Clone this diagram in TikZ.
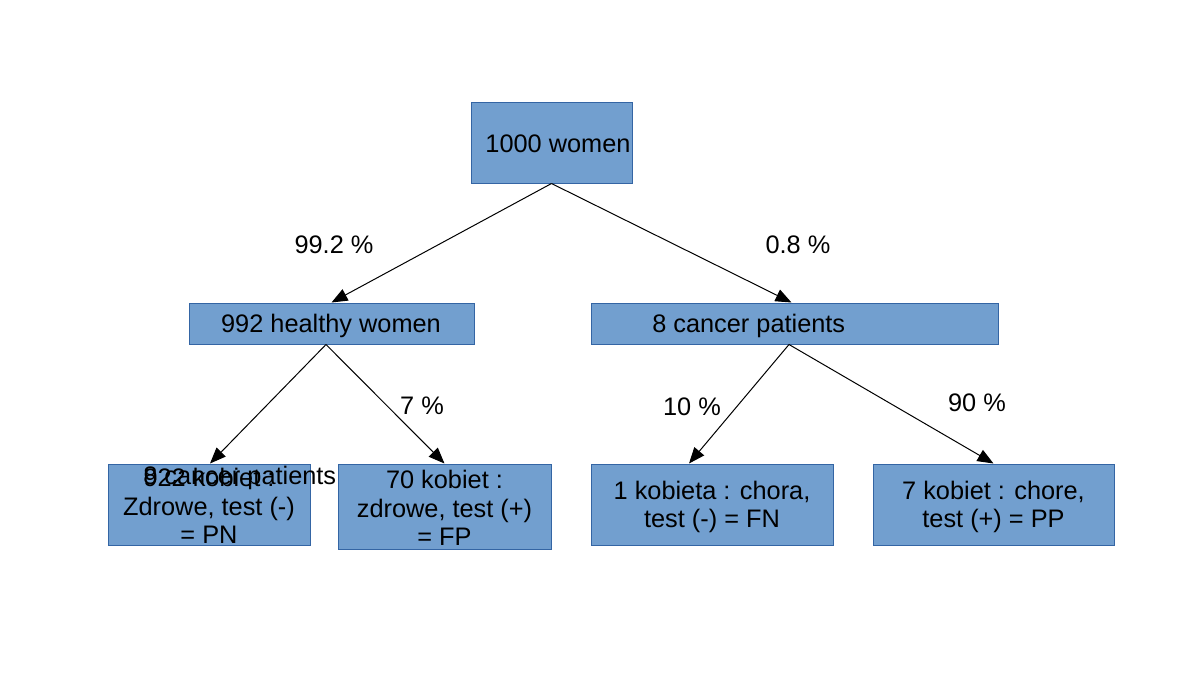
\documentclass[tikz,border=0pt]{standalone}
\usepackage{fontspec}
\setmainfont{Liberation Sans}
\usetikzlibrary{arrows.meta,calc,fit}
\definecolor{boxfill}{HTML}{729FCF}
\definecolor{boxline}{HTML}{3465A4}
\tikzset{
  box/.style={draw=boxline, fill=boxfill, line width=0.75pt, inner sep=0pt, rectangle},
  txt/.style={font=\fontsize{19}{21.5}\selectfont, align=center, inner sep=0pt, text=black},
  arr/.style={draw=black, line width=0.75pt, -{Triangle[length=12pt,width=9.5pt]}}
}
\begin{document}
\begin{tikzpicture}[x=0.75pt,y=-0.75pt]
\useasboundingbox (0,0) rectangle (1200,675);
% boxes
\node[box, fit={(471,102)(632,183)}] (top) {};
\node[box, fit={(189,303)(474,344)}] (healthy) {};
\node[box, fit={(591,303)(998,344)}] (cancer) {};
\node[box, fit={(108,464)(310,545)}] (pn) {};
\node[box, fit={(338,464)(551,549)}] (fp) {};
\node[box, fit={(591,464)(833,545)}] (fn) {};
\node[box, fit={(873,464)(1114,545)}] (pp) {};
% texts
\node[txt] (ttop) at (558,144) {1000 women};
\node[txt] (thealthy) at (331,326) {992 healthy women};
\node[txt, anchor=west] (tcancer) at (652,326) {8 cancer patients};
\node[txt] (tpn) at (209,506) {922 kobiet :\\Zdrowe, test (-)\\= PN};
\node[txt, anchor=west] (tover) at (143,478) {8 cancer patients};
\node[txt] (tfp) at (444.5,508) {70 kobiet :\\zdrowe, test (+)\\= FP};
\node[txt] (tfn) at (712,507) {1 kobieta : chora,\\test (-) = FN};
\node[txt] (tpp) at (993.5,507) {7 kobiet : chore,\\test (+) = PP};
% connectors
\draw[arr] (top.south) -- (healthy.north);
\draw[arr] (top.south) -- ($(cancer.north)+(-3,0)$);
\draw[arr] ($(healthy.south)+(-5.5,0)$) -- ($(pn.north)+(1,0)$);
\draw[arr] ($(healthy.south)+(-5.5,0)$) -- (fp.north);
\draw[arr] ($(cancer.south)+(-5.5,0)$) -- ($(fn.north)+(-23,0)$);
\draw[arr] ($(cancer.south)+(-5.5,0)$) -- (pp.north);
% labels
\node[txt] (l1) at (334,245) {99.2 \%};
\node[txt] (l2) at (798,245) {0.8 \%};
\node[txt] (l3) at (422,406) {7 \%};
\node[txt] (l4) at (692,407) {10 \%};
\node[txt] (l5) at (977,403) {90 \%};
\end{tikzpicture}
\end{document}
